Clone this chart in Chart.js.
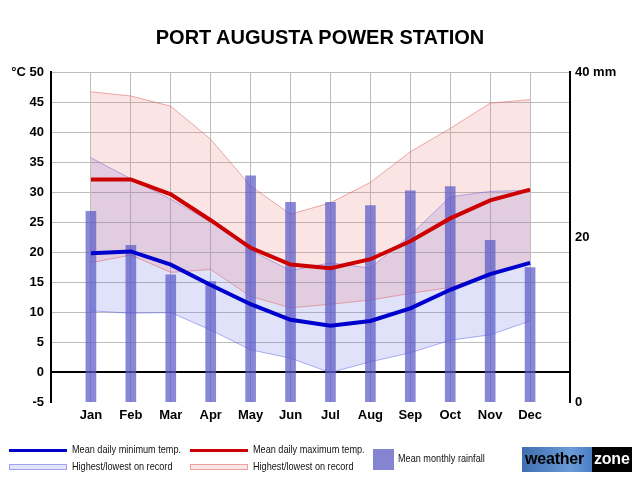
<!DOCTYPE html>
<html>
<head>
<meta charset="utf-8">
<script src="https://cdn.jsdelivr.net/npm/chart.js@4/dist/chart.umd.min.js"></script>
<style>
  body { margin: 0; background: #fff; font-family: "Liberation Sans", Arial, sans-serif; }
  #wrap { position: relative; width: 640px; height: 480px; overflow: hidden; }
  #c { position: absolute; left: 0; top: 0; }
  #title { position: absolute; left: 0; width: 640px; top: 26px; text-align: center; font-weight: bold; font-size: 20px; color: #000; }
  .sw { position: absolute; }
  .lt { position: absolute; font-size: 11px; color: #111; transform: scaleX(0.83); transform-origin: left center; white-space: nowrap; }
  #logo { position: absolute; left: 522px; top: 447px; width: 110px; height: 25px; background: #000; overflow: hidden; }
  #logo .w { position: absolute; left: 0; top: 0; width: 70px; height: 25px; background: linear-gradient(90deg, #3f6fb0, #6b9ad8 70%, #4a7ec4); }
  #logo span { position: absolute; top: 3px; font-weight: bold; font-size: 16px; letter-spacing: -0.2px; }
</style>
</head>
<body>
<div id="wrap">
  <canvas id="c" width="640" height="480"></canvas>
  <div id="title">PORT AUGUSTA POWER STATION</div>

  <div class="sw" style="left:9px;top:449px;width:58px;height:3px;background:#0000cc"></div>
  <div class="lt" style="left:72px;top:443px">Mean daily minimum temp.</div>
  <div class="sw" style="left:9px;top:464px;width:56px;height:4px;background:#e2e4f8;border:1px solid #a0a0ee"></div>
  <div class="lt" style="left:72px;top:460px">Highest/lowest on record</div>

  <div class="sw" style="left:190px;top:449px;width:58px;height:3px;background:#cc0000"></div>
  <div class="lt" style="left:253px;top:443px">Mean daily maximum temp.</div>
  <div class="sw" style="left:190px;top:464px;width:56px;height:4px;background:#fae6e6;border:1px solid #eca0a0"></div>
  <div class="lt" style="left:253px;top:460px">Highest/lowest on record</div>

  <div class="sw" style="left:373px;top:449px;width:21px;height:21px;background:#8484d2"></div>
  <div class="lt" style="left:398px;top:452px">Mean monthly rainfall</div>

  <div id="logo"><div class="w"></div><span style="left:3px;color:#000">weather</span><span style="left:72px;color:#fff">zone</span></div>
</div>
<script>
// months and values
var months = ['Jan', 'Feb', 'Mar', 'Apr', 'May', 'Jun', 'Jul', 'Aug', 'Sep', 'Oct', 'Nov', 'Dec'];
var rainfall = [23.1, 19.0, 15.4, 14.6, 27.4, 24.2, 24.2, 23.8, 25.6, 26.1, 19.6, 16.3];
var meanMin = [19.8, 20.1, 17.9, 14.5, 11.3, 8.7, 7.7, 8.5, 10.6, 13.7, 16.3, 18.2];
var meanMax = [32.1, 32.1, 29.6, 25.3, 20.7, 17.9, 17.3, 18.8, 21.8, 25.6, 28.6, 30.4];
var highestMin = [35.7, 32.2, 28.8, 25.0, 20.3, 16.9, 18.2, 17.3, 22.8, 29.2, 30.1, 30.3];
var lowestMin = [10.2, 9.8, 9.9, 7.0, 3.7, 2.3, -0.1, 1.7, 3.2, 5.3, 6.2, 8.5];
var highestMax = [46.7, 46.0, 44.3, 38.8, 31.0, 26.3, 28.2, 31.6, 36.7, 40.6, 44.8, 45.4];
var lowestMax = [18.2, 19.5, 16.6, 17.1, 12.6, 10.7, 11.3, 12.0, 13.1, 14.1, 16.4, 18.3];
var tempTicks = { min: -5, max: 50, step: 5 };
var rainTicks = { min: 0, max: 40, step: 20 };

function pad(arr) { return [null].concat(arr, [null]); }
var labels = [''].concat(months, ['']);
var tickFont = { family: '"Liberation Sans", Arial, sans-serif', size: 13, weight: 'bold' };

new Chart(document.getElementById('c').getContext('2d'), {
  type: 'bar',
  data: {
    labels: labels,
    datasets: [
      {
        label: 'Mean monthly rainfall',
        data: pad(rainfall),
        yAxisID: 'y2',
        backgroundColor: 'rgba(90, 90, 200, 0.72)',
        barThickness: 10,
        order: 1
      },
      {
        type: 'line',
        label: 'Mean daily minimum temp.',
        data: pad(meanMin),
        yAxisID: 'y',
        borderColor: '#0000cc',
        borderWidth: 4,
        pointRadius: 0,
        fill: false,
        tension: 0,
        order: 0
      },
      {
        type: 'line',
        label: 'Mean daily maximum temp.',
        data: pad(meanMax),
        yAxisID: 'y',
        borderColor: '#cc0000',
        borderWidth: 4,
        pointRadius: 0,
        fill: false,
        tension: 0,
        order: 0
      },
      {
        type: 'line',
        label: 'Highest min',
        data: pad(highestMin),
        yAxisID: 'y',
        borderColor: 'rgba(110, 110, 235, 0.55)',
        borderWidth: 1,
        pointRadius: 0,
        backgroundColor: 'rgba(100, 110, 230, 0.2)',
        fill: '+1',
        tension: 0,
        order: 3
      },
      {
        type: 'line',
        label: 'Lowest min',
        data: pad(lowestMin),
        yAxisID: 'y',
        borderColor: 'rgba(110, 110, 235, 0.55)',
        borderWidth: 1,
        pointRadius: 0,
        fill: false,
        tension: 0,
        order: 3
      },
      {
        type: 'line',
        label: 'Highest max',
        data: pad(highestMax),
        yAxisID: 'y',
        borderColor: 'rgba(220, 90, 90, 0.5)',
        borderWidth: 1,
        pointRadius: 0,
        backgroundColor: 'rgba(230, 120, 120, 0.2)',
        fill: '+1',
        tension: 0,
        order: 2
      },
      {
        type: 'line',
        label: 'Lowest max',
        data: pad(lowestMax),
        yAxisID: 'y',
        borderColor: 'rgba(220, 90, 90, 0.5)',
        borderWidth: 1,
        pointRadius: 0,
        fill: false,
        tension: 0,
        order: 2
      }
    ]
  },
  options: {
    responsive: false,
    animation: false,
    layout: { padding: { top: 72, left: 0, right: 0, bottom: 0 } },
    plugins: {
      legend: { display: false },
      title: { display: false },
      tooltip: { enabled: false }
    },
    scales: {
      x: {
        offset: false,
        border: { display: false },
        grid: {
          offset: false,
          color: function (ctx) {
            return (ctx.index === 0 || ctx.index === labels.length - 1) ? 'rgba(0,0,0,0)' : '#bdbdbd';
          },
          drawTicks: false
        },
        ticks: { color: '#000', font: tickFont, padding: 6, maxRotation: 0, autoSkip: false },
        afterFit: function (s) { s.height = 78; }
      },
      y: {
        position: 'left',
        min: tempTicks.min,
        max: tempTicks.max,
        border: { display: true, color: '#000', width: 2 },
        grid: {
          drawTicks: false,
          color: function (ctx) {
            var v = ctx.tick.value;
            if (v === tempTicks.min) return 'rgba(0,0,0,0)';
            if (v === 0) return '#000';
            return '#bdbdbd';
          },
          lineWidth: function (ctx) { return ctx.tick.value === 0 ? 2 : 1; }
        },
        ticks: {
          stepSize: tempTicks.step,
          color: '#000',
          font: tickFont,
          padding: 7,
          callback: function (v) { return v === tempTicks.max ? '°C ' + v : v; }
        },
        afterFit: function (s) { s.width = 51; }
      },
      y2: {
        position: 'right',
        min: rainTicks.min,
        max: rainTicks.max,
        border: { display: true, color: '#000', width: 2 },
        grid: { display: false, drawTicks: false },
        ticks: {
          stepSize: rainTicks.step,
          color: '#000',
          font: tickFont,
          padding: 5,
          callback: function (v) { return v === rainTicks.max ? v + ' mm' : v; }
        },
        afterFit: function (s) { s.width = 70; }
      }
    }
  }
});
</script>
</body>
</html>
